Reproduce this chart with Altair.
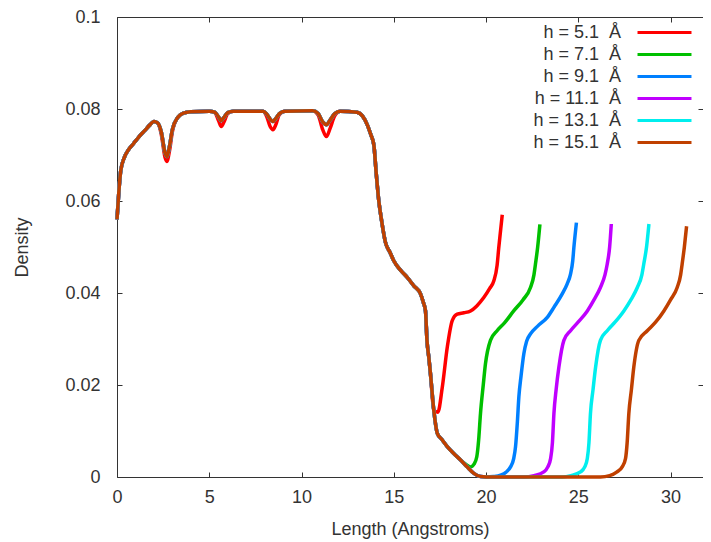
import altair as alt
import pandas as pd

SERIES = ["h = 5.1\u00a0 Å", "h = 7.1\u00a0 Å", "h = 9.1\u00a0 Å",
          "h = 11.1\u00a0 Å", "h = 13.1\u00a0 Å", "h = 15.1\u00a0 Å"]
COLORS = ["#ff0000", "#00c000", "#0080ff", "#c000ff", "#00eeee", "#c04000"]

X_TICKS = [0, 5, 10, 15, 20, 25, 30]
Y_TICKS = [0, 0.02, 0.04, 0.06, 0.08, 0.1]

# shared profile (x in Angstroms)
HEAD_X = [0.0, 0.1, 0.2, 0.4, 0.6, 0.9, 1.2, 1.5, 1.8, 2.0,
          2.2, 2.4, 2.6, 2.7, 2.85, 3.0, 3.3, 3.6, 4.0, 5.0,
          5.3, 5.5, 5.65, 5.8, 6.0, 6.3, 7.9, 8.1, 8.3, 8.45,
          8.6, 8.8, 9.1, 10.6, 10.9, 11.15, 11.35, 11.55, 11.8, 12.1,
          13.0, 13.3, 13.56, 13.75, 13.92, 14.05, 14.19, 14.35, 14.55, 14.8,
          15.0, 15.4, 15.73, 16.1, 16.45, 16.6, 16.72, 16.8, 16.9, 16.99,
          17.17]
HEAD_Y_RED = [0.056, 0.062, 0.0665, 0.0695, 0.071, 0.0725, 0.074, 0.0753, 0.0766, 0.0773,
              0.077, 0.0745, 0.0695, 0.0686, 0.071, 0.075, 0.0782, 0.0791, 0.0794, 0.0795,
              0.0792, 0.0775, 0.0762, 0.0772, 0.079, 0.0795, 0.0795, 0.0785, 0.0762, 0.0755,
              0.0765, 0.0788, 0.0795, 0.0796, 0.0787, 0.0755, 0.074, 0.0758, 0.0785, 0.0795,
              0.0793, 0.0785, 0.0766, 0.0745, 0.0722, 0.066, 0.06, 0.0555, 0.051, 0.0488,
              0.047, 0.0448, 0.0434, 0.0415, 0.0398, 0.038, 0.0361, 0.0297, 0.026, 0.0224,
              0.0145]
HEAD_Y_REST = [0.056, 0.062, 0.0665, 0.0695, 0.071, 0.0725, 0.074, 0.0753, 0.0766, 0.0773,
               0.077, 0.075, 0.0705, 0.0697, 0.072, 0.0755, 0.0782, 0.0791, 0.0794, 0.0795,
               0.0793, 0.0783, 0.0775, 0.0782, 0.0792, 0.0795, 0.0795, 0.079, 0.0778, 0.0773,
               0.0779, 0.079, 0.0795, 0.0796, 0.079, 0.0772, 0.0766, 0.0776, 0.079, 0.0795,
               0.0793, 0.0785, 0.0766, 0.0745, 0.0722, 0.066, 0.06, 0.0555, 0.051, 0.0488,
               0.047, 0.0448, 0.0434, 0.0415, 0.0398, 0.038, 0.0361, 0.0297, 0.026, 0.0224,
               0.0145]

TAIL_X = [
    [17.39, 17.63, 17.9, 18.17, 18.44, 18.8, 19.16, 19.5, 19.88, 20.2, 20.42, 20.6, 20.69, 20.8, 20.88],
    [17.36, 17.6, 17.9, 18.25, 18.62, 18.9, 19.16, 19.35, 19.5, 19.6, 19.7, 19.85, 19.97, 20.24, 20.6,
     21.0, 21.5, 22.0, 22.41, 22.6, 22.68, 22.8, 22.92],
    [17.36, 17.6, 17.9, 18.25, 18.62, 19.0, 19.34, 19.7, 20.0, 20.4, 20.79, 21.1, 21.33, 21.5, 21.6,
     21.7, 21.78, 21.9, 22.05, 22.2, 22.41, 22.8, 23.32, 23.7, 24.13, 24.4, 24.58, 24.7, 24.76, 24.9],
    [17.36, 17.6, 17.9, 18.25, 18.62, 19.0, 19.34, 19.7, 20.0, 22.05, 22.6, 23.13, 23.35, 23.5, 23.6,
     23.68, 23.8, 23.95, 24.22, 24.58, 25.0, 25.49, 25.85, 26.2, 26.45, 26.57, 26.7, 26.79],
    [17.36, 17.6, 17.9, 18.25, 18.62, 19.0, 19.34, 19.7, 20.0, 24.13, 24.6, 25.12, 25.35, 25.49, 25.58,
     25.66, 25.8, 25.94, 26.2, 26.57, 27.0, 27.47, 27.85, 28.2, 28.45, 28.55, 28.7, 28.83],
    [17.36, 17.6, 17.9, 18.25, 18.62, 19.0, 19.34, 19.7, 20.0, 26.2, 26.7, 27.1, 27.38, 27.56, 27.65,
     27.74, 27.88, 28.01, 28.28, 28.74, 29.2, 29.64, 30.0, 30.36, 30.55, 30.63, 30.75, 30.87],
]
TAIL_Y = [
    [0.0141, 0.0195, 0.0282, 0.034, 0.0354, 0.0357, 0.0361, 0.0372, 0.039, 0.041, 0.0426, 0.046, 0.0498, 0.054, 0.057],
    [0.0095, 0.0082, 0.0066, 0.0051, 0.0037, 0.0028, 0.0022, 0.0028, 0.0044, 0.008, 0.0138, 0.02, 0.0246, 0.0297, 0.0318,
     0.0335, 0.0361, 0.0385, 0.0412, 0.044, 0.0463, 0.05, 0.0549],
    [0.0095, 0.0082, 0.0066, 0.0051, 0.0037, 0.0021, 0.0008, 0.0001, 0.0, 0.0001, 0.0004, 0.0011, 0.0022, 0.004, 0.0066,
     0.012, 0.0174, 0.022, 0.0268, 0.0295, 0.0311, 0.0328, 0.0347, 0.037, 0.0398, 0.042, 0.0441, 0.047, 0.0498, 0.0553],
    [0.0095, 0.0082, 0.0066, 0.0051, 0.0037, 0.0021, 0.0008, 0.0001, 0.0, 0.0, 0.0003, 0.0011, 0.0022, 0.004, 0.0075,
     0.0138, 0.019, 0.0239, 0.0297, 0.0318, 0.0337, 0.0361, 0.0385, 0.0412, 0.044, 0.0463, 0.05, 0.055],
    [0.0095, 0.0082, 0.0066, 0.0051, 0.0037, 0.0021, 0.0008, 0.0001, 0.0, 0.0, 0.0003, 0.0011, 0.0022, 0.004, 0.0075,
     0.0138, 0.019, 0.0239, 0.0297, 0.0318, 0.0337, 0.0361, 0.0385, 0.0412, 0.044, 0.0463, 0.05, 0.055],
    [0.0095, 0.0082, 0.0066, 0.0051, 0.0037, 0.0021, 0.0008, 0.0001, 0.0, 0.0, 0.0003, 0.0011, 0.0022, 0.004, 0.0075,
     0.0138, 0.019, 0.0239, 0.0297, 0.0318, 0.0337, 0.0361, 0.0385, 0.0412, 0.044, 0.0463, 0.05, 0.0545],
]

rows = []
for i, name in enumerate(SERIES):
    head_y = HEAD_Y_RED if i == 0 else HEAD_Y_REST
    xs = HEAD_X + TAIL_X[i]
    ys = head_y + TAIL_Y[i]
    for xv, yv in zip(xs, ys):
        rows.append({"series": name, "x": xv, "y": yv})
df = pd.DataFrame(rows)

W, H = 586, 460
FONT = "Liberation Sans"
TXT = "#333333"
AX = "#333333"

xscale = alt.Scale(domain=[0, 31.76], nice=False, zero=False)
yscale = alt.Scale(domain=[0, 0.1], nice=False)

lines = alt.Chart(df).mark_line(strokeWidth=3.5, interpolate="monotone").encode(
    x=alt.X("x:Q", scale=xscale,
            axis=alt.Axis(orient="bottom", values=X_TICKS, title="Length (Angstroms)",
                          ticks=False, grid=False, domain=True, domainColor=AX, domainWidth=1,
                          labelFont=FONT, labelFontSize=18, labelColor=TXT, labelPadding=11,
                          titleFont=FONT, titleFontSize=18, titleColor=TXT, titleFontWeight="normal",
                          titlePadding=14, labelFlush=False)),
    y=alt.Y("y:Q", scale=yscale,
            axis=alt.Axis(orient="left", values=Y_TICKS, format="~g", title="Density",
                          ticks=False, grid=False, domain=True, domainColor=AX, domainWidth=1,
                          labelFont=FONT, labelFontSize=18, labelColor=TXT, labelPadding=17,
                          titleFont=FONT, titleFontSize=18, titleColor=TXT, titleFontWeight="normal",
                          titlePadding=33, labelFlush=False)),
    color=alt.Color("series:N", sort=SERIES,
                    scale=alt.Scale(domain=SERIES, range=COLORS),
                    legend=alt.Legend(title=None, orient="none", legendX=470, legendY=3,
                                      symbolType="M-2.5,0H2.5", symbolSize=466,
                                      symbolStrokeWidth=3, labelAlign="right",
                                      labelOffset={"expr": "-56"}, symbolOffset=65, rowPadding=0,
                                      padding=0, labelFont=FONT, labelFontSize=18,
                                      labelColor=TXT, labelLimit=300)),
)

ticks_a = alt.Chart(df).mark_point(opacity=0).encode(
    x=alt.X("x:Q", scale=xscale,
            axis=alt.Axis(orient="top", offset=-H, values=X_TICKS, labels=False, domain=False,
                          ticks=True, tickSize=5, tickColor=AX, grid=False, title=None)),
    y=alt.Y("y:Q", scale=yscale,
            axis=alt.Axis(orient="right", offset=-W, values=Y_TICKS, labels=False, domain=False,
                          ticks=True, tickSize=5, tickColor=AX, grid=False, title=None)),
)

ticks_b = alt.Chart(df).mark_point(opacity=0).encode(
    x=alt.X("x:Q", scale=xscale,
            axis=alt.Axis(orient="bottom", offset=-H, values=X_TICKS, labels=False, domain=True,
                          domainColor=AX, domainWidth=1,
                          ticks=True, tickSize=5, tickColor=AX, grid=False, title=None)),
    y=alt.Y("y:Q", scale=yscale,
            axis=alt.Axis(orient="left", offset=-W, values=Y_TICKS, labels=False, domain=False,
                          ticks=True, tickSize=5, tickColor=AX, grid=False, title=None)),
)

chart = alt.layer(lines, ticks_a, ticks_b).resolve_axis(
    x="independent", y="independent"
).properties(
    width=W, height=H,
    padding={"left": 109, "top": 9, "right": 0, "bottom": 63},
    autosize=alt.AutoSizeParams(type="none"),
).configure_view(stroke=None)

chart.save("out.html", embed_options={"renderer": "svg", "actions": False})
